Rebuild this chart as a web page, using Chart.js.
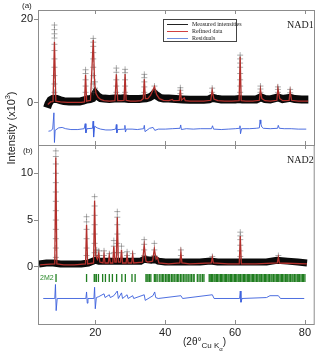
<!DOCTYPE html>
<html>
<head>
<meta charset="utf-8">
<script src="https://cdn.jsdelivr.net/npm/chart.js@4.4.1/dist/chart.umd.min.js"></script>
<style>
  body { margin: 0; background: #fff; width: 320px; height: 357px; position: relative; overflow: hidden; font-family: "Liberation Sans", Arial, sans-serif; color: #222; }
  canvas { position: absolute; left: 0; top: 0; }
  .lbl { position: absolute; white-space: nowrap; line-height: 1; }
  .serif { font-family: "Liberation Serif", "Times New Roman", serif; }
  #legend { position: absolute; left: 163px; top: 19px; width: 74px; height: 23px; border: 1px solid #444; background: #fff; box-sizing: border-box; }
  #legend .row { position: absolute; left: 3px; height: 7px; }
  #legend .sw { position: absolute; left: 0; top: 3px; width: 21px; height: 1px; }
  #legend .tx { position: absolute; left: 25px; top: 0; font-size: 6px; line-height: 7px; white-space: nowrap; }
</style>
</head>
<body>
<canvas id="chart-b" width="320" height="357"></canvas>
<canvas id="chart-a" width="320" height="357"></canvas>

<div class="lbl" style="left:22px;top:2px;font-size:8px">(a)</div>
<div class="lbl" style="left:23px;top:147px;font-size:8px">(b)</div>
<div class="lbl serif" style="left:287px;top:20px;font-size:10px">NAD1</div>
<div class="lbl serif" style="left:287px;top:155px;font-size:10px">NAD2</div>
<div class="lbl" style="left:40px;top:274px;font-size:7px;color:#2b8a2b">2M2</div>
<div class="lbl" style="left:183px;top:337px;font-size:10px">(2θ°<sub style="font-size:8px">Cu K<sub style="font-size:6px">α</sub></sub>)</div>

<div id="legend">
  <div class="row" style="top:1px"><div class="sw" style="background:#222"></div><div class="tx serif">Measured intensities</div></div>
  <div class="row" style="top:8px"><div class="sw" style="background:#d04040"></div><div class="tx serif">Refined data</div></div>
  <div class="row" style="top:15px"><div class="sw" style="background:#6f8fe0"></div><div class="tx serif">Residuals</div></div>
</div>

<script>
// Axis ticks
const xTicks = [20, 40, 60, 80];
const yTicksA = [0, 20];
const yTicksB = [0, 5, 10];

// ---- Panel (a): NAD1 ----
const refinedA = [[6.4,-0.4],[7.2,0.2],[7.9,0.3],[8.3,14.6],[8.7,0.4],[10,0.2],[12,0.1],[14,0.1],[16,0.1],[16.9,0.2],[17.2,6.7],[17.5,0.4],[18.6,0.6],[19.4,15],[19.8,4.5],[20.2,2.2],[20.8,1.3],[21.5,0.8],[22.5,0.5],[24,0.4],[25.6,0.5],[26,6.8],[26.4,0.5],[27.5,0.5],[28.2,0.6],[28.5,6.9],[28.8,0.6],[30,0.4],[31.5,0.4],[33,0.5],[33.7,1.0],[34,5.6],[34.3,1.0],[35,1.0],[35.8,1.8],[36.9,3.9],[37.5,2.0],[38.3,1.0],[39.5,0.6],[41,0.5],[42,0.8],[42.3,0.5],[44,0.6],[44.3,3.1],[44.6,0.6],[45.4,1.2],[45.7,0.5],[47,0.4],[49,0.4],[51,0.4],[53,0.6],[53.4,3.0],[53.9,0.9],[55,0.5],[57,0.4],[59,0.4],[61.1,0.5],[61.4,11],[61.7,0.5],[63,0.4],[65,0.4],[66.9,0.6],[67.2,3.2],[67.6,1.0],[68.5,0.5],[70,0.4],[71.9,0.6],[72.2,3.4],[72.7,1.0],[73.6,0.5],[75.4,0.6],[75.7,2.8],[76.1,0.6],[78,0.4],[80.8,0.4]];

// dense measured background (noise band)
const bandA = [[6.2,-1.2],[6.6,-0.2],[7.2,0.6],[7.8,0.9],[9,0.9],[10,0.6],[11,0.4],[12.5,0.3],[14,0.3],[15.5,0.3],[16.5,0.5],[17.5,0.8],[18.5,0.9],[19.2,1.1],[20,2.2],[20.6,1.6],[21.5,1.1],[22.5,1.0],[24,0.9],[25.5,1.0],[27,1.0],[28,1.1],[29.5,0.9],[31,0.9],[32.5,0.9],[33.5,1.0],[34.5,1.1],[35.5,1.3],[36.3,1.7],[36.9,2.2],[37.6,1.7],[38.5,1.2],[39.5,1.0],[41,1.0],[43,0.9],[45,0.8],[47,0.7],[49,0.7],[51,0.7],[52.5,0.8],[53.5,1.2],[54.5,1.0],[56,0.8],[58,0.8],[60,0.8],[61,0.9],[62,0.8],[64,0.8],[66,0.8],[67.3,1.3],[68.5,0.9],[70,0.8],[72.2,1.3],[73.5,0.9],[75.7,1.2],[77,0.9],[79,0.8],[80.9,0.8]];

// measured crosses standing above the band at the peaks
const peakXA = [8.3, 17.2, 19.4, 19.9, 26.0, 28.5, 34.0, 36.9, 44.3, 53.4, 61.4, 67.2, 72.2, 75.7];
const peakYA = [
  [2.5,4.5,6.5,8.5,10.5,12.5,14,15.5,16.5,17.5,18.6],
  [2.5,4,5.5,7,7.9],
  [2.5,4.5,6.5,8.5,10.5,12,13.5,14.5,15.4],
  [3.5,5],
  [2.5,4,5.5,7.3,8.3],
  [2.5,4,5.5,7.2,8],
  [2.5,3.8,5,6,6.8],
  [3,4],
  [2.2,3,3.6],
  [2.5,3.5],
  [2.5,4,5.5,7,8.5,9.5,10.5,11.4],
  [2.5,3.3,4],
  [2.5,3.2,3.8],
  [2.4,3.2]
];

const residA = [[6.6,-6.8],[7.2,-6.7],[7.8,-6.3],[8.15,-2.4],[8.3,-9.5],[8.5,-6.6],[9.5,-6.0],[10.5,-5.9],[11.5,-6.2],[13,-6.4],[15,-6.4],[16.8,-6.2],[17.1,-5.0],[17.3,-7.2],[17.6,-6.2],[19.2,-6.1],[19.35,-4.4],[19.5,-8.2],[19.8,-5.6],[20.5,-6.0],[21.5,-6.3],[23,-6.5],[24.5,-6.5],[25.8,-6.3],[26.0,-5.2],[26.15,-7.2],[26.4,-6.4],[28.3,-6.3],[28.45,-5.4],[28.6,-7.0],[28.9,-6.3],[30.5,-6.3],[32,-6.4],[33.8,-6.2],[34.0,-5.4],[34.2,-6.9],[35.5,-6.1],[36.5,-5.9],[37,-6.6],[38,-6.3],[40,-6.3],[42,-6.2],[44.2,-6.1],[44.4,-5.3],[44.6,-6.4],[46,-6.2],[48,-6.3],[50,-6.2],[53.2,-6.2],[53.5,-5.5],[53.8,-6.3],[56,-6.4],[58,-6.3],[60,-6.2],[61.2,-6.1],[61.35,-5.5],[61.5,-7.4],[61.8,-6.2],[64,-6.2],[66,-6.1],[66.9,-6.0],[67.1,-4.1],[67.3,-5.0],[67.6,-5.8],[68,-6.1],[70,-6.2],[72.1,-6.1],[72.3,-5.4],[72.6,-6.1],[74,-6.2],[76,-6.2],[78,-6.3],[80.3,-6.3]];

// ---- Panel (b): NAD2 ----
const refinedB = [[4.2,0.2],[6,0.25],[8.4,0.3],[8.7,11.7],[9,0.3],[11,0.2],[14,0.2],[17.2,0.3],[17.5,4.5],[17.8,0.3],[19.5,0.4],[19.8,7.1],[20.1,1.2],[20.6,0.8],[21,1.5],[21.3,0.5],[22.2,0.4],[22.5,1.3],[22.8,0.4],[23.7,0.4],[24,1.2],[24.3,0.4],[25,0.4],[25.3,2.2],[25.6,0.5],[26,0.5],[26.3,5.3],[26.6,0.5],[27.2,0.5],[27.5,1.8],[27.8,0.4],[28.8,0.4],[29.1,1.2],[29.4,0.4],[30.4,0.4],[30.7,1.3],[31,0.4],[33.5,0.5],[34,2.3],[34.5,0.6],[35,0.5],[36.4,0.6],[36.9,1.9],[37.4,0.8],[37.8,1.0],[38.2,0.4],[41,0.3],[44.2,0.4],[44.5,1.5],[44.8,0.4],[47,0.3],[53.2,0.4],[53.5,1.0],[53.8,0.4],[58,0.3],[61.2,0.3],[61.5,3.3],[61.8,0.3],[66,0.3],[72.1,0.4],[72.4,1.0],[72.7,0.4],[80.6,0.3]];

const bandB = [[3.9,0.3],[6,0.4],[8,0.4],[10,0.3],[12,0.3],[14,0.3],[16,0.3],[18,0.4],[20,0.7],[21,0.6],[23,0.6],[25,0.6],[27,0.6],[29,0.6],[31,0.6],[33,0.6],[34,0.8],[36,0.7],[37,0.8],[38,0.6],[40,0.5],[42,0.5],[45,0.5],[48,0.5],[50,0.5],[53,0.6],[55,0.5],[58,0.5],[61,0.5],[63,0.5],[66,0.5],[69,0.5],[72,0.7],[75,0.6],[78,0.5],[80.6,0.4]];

const peakXB = [8.7, 17.5, 19.8, 20.4, 21.0, 22.5, 24.0, 25.3, 26.3, 27.5, 29.1, 30.7, 34.0, 36.9, 44.5, 53.5, 61.5, 72.4];
const peakYB = [
  [1,2,3,4,5,6,7,8,9,10,11,11.8,12.4],
  [1.2,2,3,4,4.8,5.35],
  [1.5,2.5,3.5,4.5,5.5,6.5,7.5],
  [1.2,1.8],
  [1.2,1.7],
  [1.2,1.7],
  [1.4],
  [1.5,2.2,2.8],
  [1.5,2.5,3.5,4.5,5.3,5.9],
  [1.5,2.2],
  [1.2,1.6],
  [1.4],
  [1.2,1.8,2.4,2.9],
  [1.2,1.8,2.5],
  [1.2,1.8],
  [1.1],
  [1.1,1.7,2.3,2.9,3.3,3.7],
  [1.2]
];

// 2M2 reflection positions (2θ)
const reflB = [8.76,17.5,19.7,19.9,20.3,20.9,22.1,22.9,24.0,24.9,26.1,27.6,28.6,30.5,31.4,34.5,34.8,35.1,35.5,35.9,36.9,37.3,37.7,38.3,38.8,39.2,39.6,40.1,40.5,40.9,41.3,41.8,42.2,42.6,43.1,43.5,43.9,44.4,44.8,45.3,45.7,46.2,46.6,47.1,47.5,48.0,48.3,49.2,49.7,50.2,50.7,51.1,52.6,52.9,53.3,53.6,54.0,54.3,54.7,55.0,55.4,55.8,56.1,56.5,56.9,57.3,57.6,58.0,58.3,58.7,59.0,59.4,59.8,60.1,60.5,60.9,61.2,61.6,62.0,62.4,62.7,63.1,63.5,63.8,64.2,64.6,65.0,65.3,65.7,66.1,66.5,66.9,67.2,67.6,68.0,68.4,68.7,69.1,69.5,69.9,70.3,70.6,71.0,71.4,71.8,72.1,72.5,72.9,73.3,73.6,74.0,74.4,74.8,75.1,75.5,75.9,76.3,76.6,77.0,77.4,77.8,78.1,78.5,78.9,79.3,79.6,80.0];
const reflY = -1.2;

const residB = [[5.1,-3.4],[8.4,-3.4],[8.6,-1.9],[8.8,-4.7],[9.1,-3.4],[17.3,-3.4],[17.5,-2.7],[17.7,-3.9],[17.9,-3.4],[19.6,-3.4],[19.8,-2.2],[20,-4.5],[20.3,-3.3],[21,-3.2],[22.5,-2.9],[22.8,-3.3],[24,-3],[24.3,-3.3],[25.3,-3.1],[26.3,-2.6],[26.6,-3.4],[27.5,-2.8],[27.8,-3.4],[29.1,-3],[29.4,-3.4],[30.7,-3.1],[31,-3.4],[34,-3.0],[34.3,-3.6],[36.5,-3.1],[37,-2.7],[37.3,-3.3],[38,-3.4],[44.5,-3.1],[45,-3.4],[53.5,-3.0],[54,-3.4],[61.3,-3.4],[61.5,-2.6],[61.7,-3.8],[62,-3.4],[69,-3.3],[70,-3.1],[72.4,-3.1],[73,-3.4],[79.8,-3.4]];

const X_MIN = 3.6, X_MAX = 82.8;

Chart.defaults.font.family = '"Liberation Sans", Arial, sans-serif';
Chart.defaults.color = '#222';

const toXY = arr => arr.map(p => ({ x: p[0], y: p[1] }));
const crossPoints = (xs, ys) => xs.flatMap((x, i) => ys[i].map(y => ({ x, y })));

// box frame with inward x ticks on top and bottom edges
const framePlugin = {
  id: 'frame',
  afterDatasetsDraw(chart) {
    const { ctx, chartArea: a } = chart;
    const xs = chart.scales.x;
    ctx.save();
    ctx.strokeStyle = '#8c8c8c';
    ctx.lineWidth = 1;
    ctx.strokeRect(a.left + 0.5, a.top + 0.5, a.right - a.left - 1, a.bottom - a.top);
    ctx.beginPath();
    xTicks.forEach(v => {
      const px = Math.round(xs.getPixelForValue(v)) + 0.5;
      ctx.moveTo(px, a.top); ctx.lineTo(px, a.top + 4);
      ctx.moveTo(px, a.bottom); ctx.lineTo(px, a.bottom - 4);
    });
    ctx.stroke();
    ctx.restore();
  }
};

// shared y title, centred at (11, 128) across both panels
const yTitlePlugin = {
  id: 'ytitle',
  afterDraw(chart) {
    const ctx = chart.ctx;
    const main = 'Intensity (x10';
    ctx.save();
    ctx.translate(12, 128);
    ctx.rotate(-Math.PI / 2);
    ctx.fillStyle = '#222';
    ctx.textBaseline = 'middle';
    ctx.font = '11px "Liberation Sans", Arial, sans-serif';
    const w1 = ctx.measureText(main).width;
    ctx.font = '7px "Liberation Sans", Arial, sans-serif';
    const w2 = ctx.measureText('3').width;
    ctx.font = '11px "Liberation Sans", Arial, sans-serif';
    const w3 = ctx.measureText(')').width;
    let x = -(w1 + w2 + w3) / 2;
    ctx.textAlign = 'left';
    ctx.fillText(main, x, 0);
    x += w1;
    ctx.font = '7px "Liberation Sans", Arial, sans-serif';
    ctx.fillText('3', x, -4);
    x += w2;
    ctx.font = '11px "Liberation Sans", Arial, sans-serif';
    ctx.fillText(')', x, 0);
    ctx.restore();
  }
};

function yScale(min, max, ticks) {
  return {
    min, max,
    afterBuildTicks: s => { s.ticks = ticks.map(v => ({ value: v })); },
    afterFit: s => { s.width = 38; },
    border: { display: false },
    grid: { drawOnChartArea: false, drawTicks: true, tickLength: 4, color: '#8c8c8c' },
    ticks: { font: { size: 11 }, padding: 1, color: '#222' }
  };
}

function lineSet(data, color, width) {
  return { type: 'scatter', data: toXY(data), showLine: true, borderColor: color, borderWidth: width, pointRadius: 0, fill: false };
}

function crossSet(points) {
  return { type: 'scatter', data: points, showLine: false, pointStyle: 'cross', pointRadius: 3, borderWidth: 1, borderColor: 'rgba(70,70,70,0.45)', backgroundColor: 'rgba(0,0,0,0)' };
}

const baseOpts = {
  responsive: false,
  animation: false,
  events: [],
  plugins: { legend: { display: false }, tooltip: { enabled: false } }
};

new Chart(document.getElementById('chart-a'), {
  type: 'scatter',
  data: {
    datasets: [
      lineSet(refinedA, '#b3302c', 1.3),
      lineSet(residA, '#3a5fdc', 0.9),
      crossSet(crossPoints(peakXA, peakYA)),
      lineSet(bandA, '#0a0a0a', 8)
    ]
  },
  options: Object.assign({}, baseOpts, {
    layout: { padding: { top: 10, right: 5, bottom: 212, left: 0 } },
    scales: {
      x: { type: 'linear', min: X_MIN, max: X_MAX, display: false },
      y: yScale(-10.1, 22.2, yTicksA)
    }
  }),
  plugins: [framePlugin, yTitlePlugin]
});

new Chart(document.getElementById('chart-b'), {
  type: 'scatter',
  data: {
    datasets: [
      lineSet(refinedB, '#b3302c', 1.3),
      lineSet(residB, '#3a5fdc', 0.9),
      {
        type: 'scatter', data: reflB.map(x => ({ x, y: reflY })), showLine: false,
        pointStyle: 'line', rotation: 90, pointRadius: 4, borderWidth: 1.3, borderColor: '#1f7d1f'
      },
      crossSet(crossPoints(peakXB, peakYB)),
      lineSet(bandB, '#0a0a0a', 7)
    ]
  },
  options: Object.assign({}, baseOpts, {
    layout: { padding: { top: 145, right: 5, bottom: 0, left: 0 } },
    scales: {
      x: {
        type: 'linear', min: X_MIN, max: X_MAX,
        afterBuildTicks: s => { s.ticks = xTicks.map(v => ({ value: v })); },
        afterFit: s => { s.height = 33; },
        border: { display: false },
        grid: { display: false, drawTicks: false },
        ticks: { font: { size: 11 }, padding: 2, color: '#222', maxRotation: 0 }
      },
      y: yScale(-6.13, 13.03, yTicksB)
    }
  }),
  plugins: [framePlugin]
});
</script>
</body>
</html>
